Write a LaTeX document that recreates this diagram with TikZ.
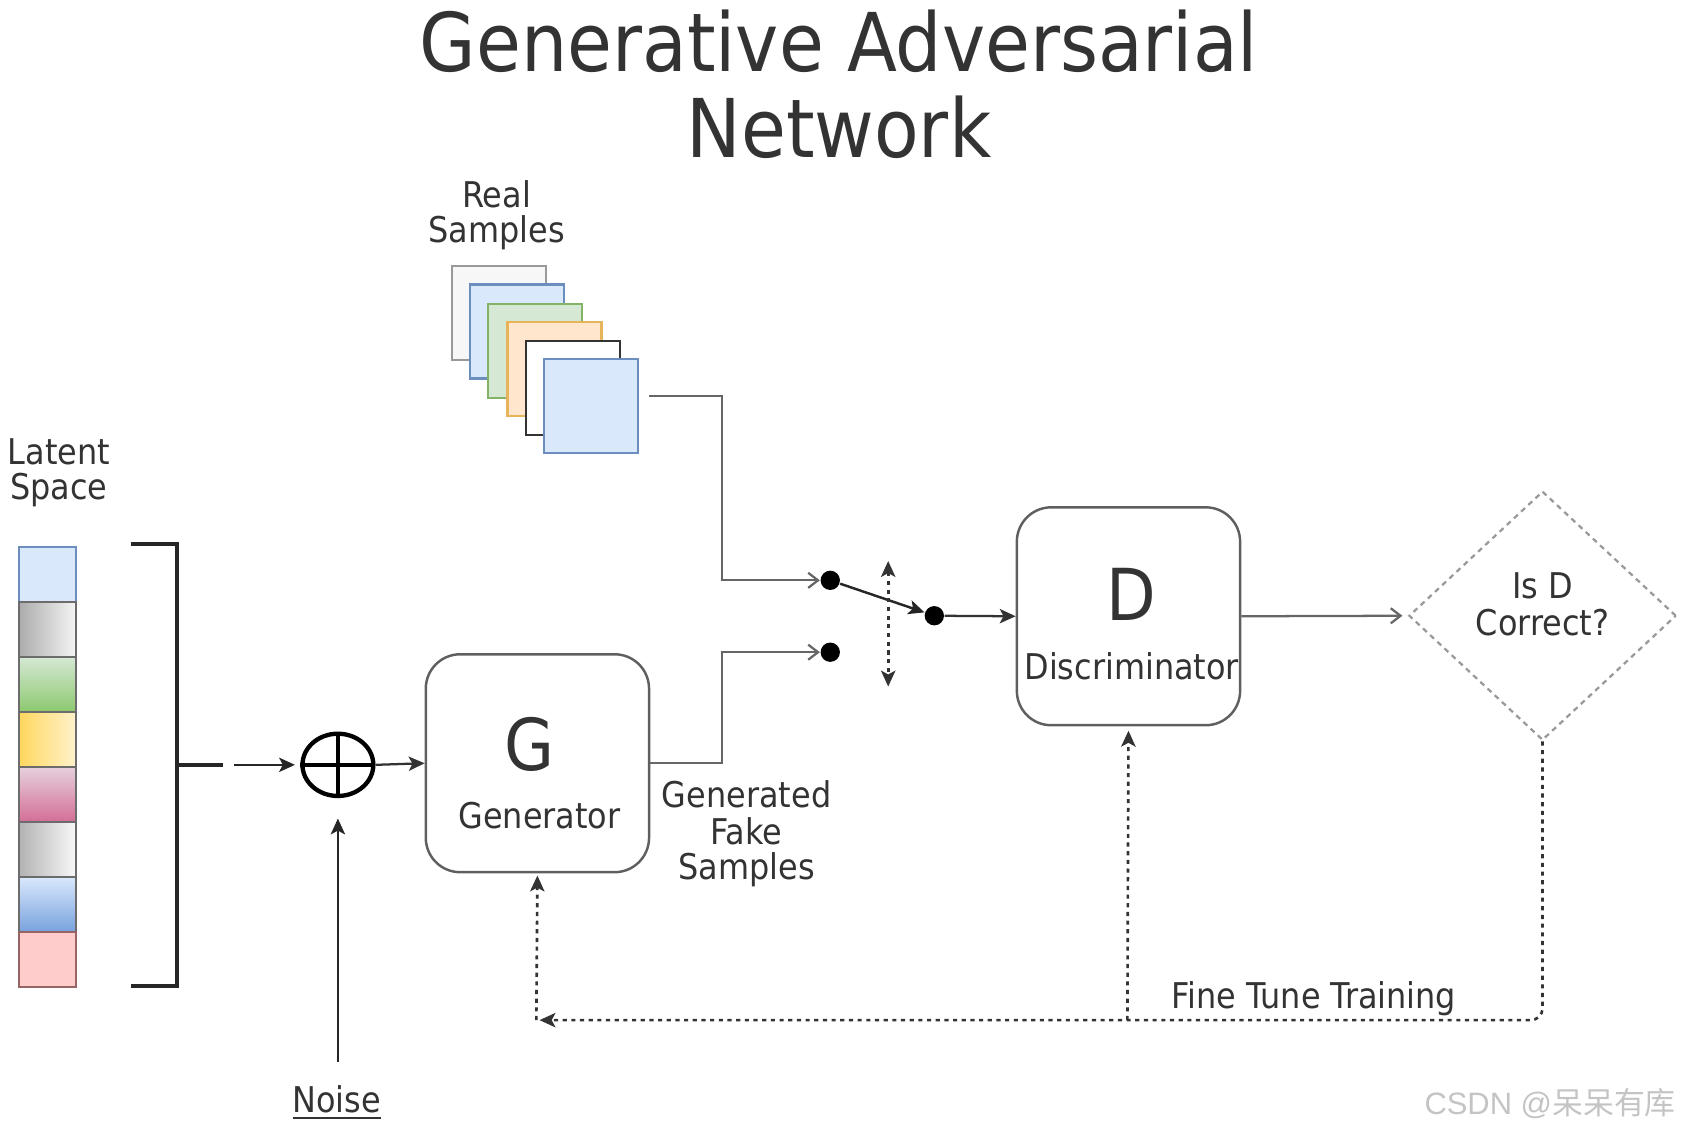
\documentclass[tikz,border=0pt]{standalone}
\usepackage{fontspec}
\IfFontExistsTF{DejaVu Sans Condensed}{\setmainfont{DejaVu Sans Condensed}}{\setmainfont{Liberation Sans}}
\newfontfamily\wmfont{Liberation Sans}
\newfontfamily\cjkfont{Noto Sans CJK SC}
\usetikzlibrary{arrows.meta,shapes.geometric,calc}
\definecolor{txt}{HTML}{333333}
\definecolor{boxc}{HTML}{5F5F5F}
\definecolor{linec}{HTML}{666666}
\definecolor{dotc}{HTML}{333333}
\definecolor{dashc}{HTML}{9A9A9A}
\definecolor{wmc}{HTML}{C4C4C4}
\definecolor{blueb}{HTML}{6C8EBF}
\definecolor{bluef}{HTML}{DAE8FC}
\begin{document}
\begin{tikzpicture}[x=0.01cm,y=-0.01cm,
  ftip/.tip={Stealth[length=4.2pt,width=3.8pt,inset=1pt]},
  otip/.tip={Straight Barb[length=2.6pt,width=4pt]},
  lbl/.style={font=\fontsize{9.4}{9.7}\selectfont, text=txt, inner sep=0pt, anchor=base},
  ttl/.style={font=\fontsize{21.5}{22.8}\selectfont, text=txt, inner sep=0pt, anchor=base},
  big/.style={font=\fontsize{19}{19}\selectfont, text=txt, inner sep=0pt, anchor=base},
  box/.style={draw=boxc, line width=0.65pt, rounded corners=0.32cm, minimum width=2.08cm, minimum height=2.03cm, inner sep=0pt},
  cell/.style={draw=gray!85!black, line width=0.45pt, minimum width=0.53cm, minimum height=0.5125cm, inner sep=0pt},
  sq/.style={line width=0.6pt, minimum size=0.875cm, inner sep=0pt},
  conn/.style={draw=linec, line width=0.6pt},
  sdot/.style={circle, fill=black, inner sep=0pt, minimum size=0.18cm},
  fb/.style={draw=dotc, line width=0.7pt, dash pattern=on 1.1pt off 1.2pt},
]
\useasboundingbox (0,0) rectangle (1568,1057);

% title
\node[ttl] (t1) at (782,67) {Generative Adversarial};
\node[ttl] (t2) at (782,147) {Network};

% real samples
\node[lbl] (rs1) at (463,193) {Real};
\node[lbl] (rs2) at (463,226) {Samples};
\node[sq, draw=gray!80, fill=gray!6] (s1) at (465,292) {};
\node[sq, draw=blueb, fill=bluef] (s2) at (482,309) {};
\node[sq, draw={rgb,255:red,130;green,179;blue,102}, fill={rgb,255:red,213;green,232;blue,212}] (s3) at (499,327) {};
\node[sq, draw={rgb,255:red,230;green,180;blue,90}, fill={rgb,255:red,255;green,230;blue,204}] (s4) at (517,344) {};
\node[sq, draw=black!80, fill=white] (s5) at (534,361.5) {};
\node[sq, draw=blueb, fill=bluef] (s6) at (551,378.5) {};

% latent space
\node[lbl] (ls1) at (55,433) {Latent};
\node[lbl] (ls2) at (55,466) {Space};
\node[cell, fill=bluef, draw=blueb] (c1) at (44.5,535.6) {};
\node[cell, left color=gray!65, right color=gray!8] (c2) at (44.5,586.9) {};
\node[cell, top color={rgb,255:red,213;green,232;blue,212}, bottom color={rgb,255:red,140;green,200;blue,110}] (c3) at (44.5,638.1) {};
\node[cell, left color={rgb,255:red,255;green,215;blue,95}, right color={rgb,255:red,255;green,242;blue,204}] (c4) at (44.5,689.4) {};
\node[cell, top color={rgb,255:red,230;green,208;blue,222}, bottom color={rgb,255:red,212;green,110;blue,150}] (c5) at (44.5,740.6) {};
\node[cell, left color=gray!60, right color=gray!5] (c6) at (44.5,791.9) {};
\node[cell, top color=bluef, bottom color={rgb,255:red,120;green,162;blue,222}] (c7) at (44.5,843.1) {};
\node[cell, fill={rgb,255:red,255;green,204;blue,204}, draw={rgb,255:red,150;green,100;blue,100}] (c8) at (44.5,894.4) {};

% bracket
\draw[black!85, line width=0.9pt] (122,507) -- (165,507) -- (165,919) -- (122,919);
\coordinate (brm) at (165,713);
\coordinate (bre) at (208,713);
\draw[black!85, line width=0.9pt] (brm) -- (bre);
\coordinate (arS) at (218,713);

% plus
\node[ellipse, draw=black, line width=1.15pt, minimum width=0.66cm, minimum height=0.58cm, inner sep=0pt] (plus) at (315,713) {};
\draw[black, line width=1.15pt] (plus.north) -- (plus.south) (plus.west) -- (plus.east);
\draw[black!85, line width=0.6pt, -ftip, shorten >=0.05cm] (arS) -- (plus.west);

% noise
\node[lbl] (noise) at (314,1037) {\underline{Noise}};
\coordinate (nz) at (315,990);
\draw[black!85, line width=0.6pt, -ftip, shorten >=0.19cm] (nz) -- (plus.south);

% generator
\node[box] (G) at (501,711.5) {};
\node[big] (Gl) at (494,718) {G};
\node[lbl] (Gt) at (503,772) {Generator};
\draw[black!80, line width=0.6pt, -ftip] (plus.east) -- (G.west);

\node[lbl] (gf1) at (696,753) {Generated};
\node[lbl] (gf2) at (696,787) {Fake};
\node[lbl] (gf3) at (696,820) {Samples};

% switch
\node[sdot] (dA) at (774,541) {};
\node[sdot] (dB) at (774,608) {};
\node[sdot] (dC) at (871,574) {};
\coordinate (rsOut) at (605,369);
\draw[conn, -otip] (rsOut) -- (673,369) -- (673,541) -- (dA.west);
\draw[conn, -otip] (G.east) -- (673,711.5) -- (673,608) -- (dB.west);
\draw[black!85, line width=0.65pt, -ftip] (dA) -- (dC);
\coordinate (sw1) at (828,523);
\coordinate (sw2) at (828,640);
\draw[fb, ftip-ftip] (sw1) -- (sw2);

% discriminator
\node[box] (D) at (1052,574.5) {};
\node[big] (Dl) at (1055,578) {D};
\node[lbl] (Dt) at (1055,633) {Discriminator};
\draw[black!80, line width=0.6pt, -ftip] (dC) -- (D.west);

% decision
\node[diamond, draw=dashc, line width=0.6pt, dash pattern=on 1.4pt off 1.2pt, minimum width=2.49cm, minimum height=2.32cm, inner sep=0pt] (dec) at (1438,574) {};
\node[lbl] (q1) at (1438,558) {Is D};
\node[lbl] (q2) at (1438,592) {Correct?};
\draw[conn, -otip, shorten >=0.05cm] (D.east) -- (dec.west);

% feedback
\coordinate (fbL) at (503,951);
\coordinate (fbC) at (500,951);
\coordinate (fbD) at (1051,951);
\draw[fb, rounded corners=0.11cm, -ftip] (dec.south) |- (fbL);
\draw[fb, -ftip, shorten >=0.02cm] (fbC) -- (G.south);
\draw[fb, -ftip, shorten >=0.04cm] (fbD) -- (D.south);
\node[lbl] (ft) at (1225,940) {Fine Tune Training};

% watermark
\node[font=\fontsize{8.2}{9}\selectfont, text=wmc, inner sep=0pt, anchor=base east] (wm) at (1563,1039) {\wmfont CSDN @{\cjkfont 呆呆有库}};
\end{tikzpicture}
\end{document}
